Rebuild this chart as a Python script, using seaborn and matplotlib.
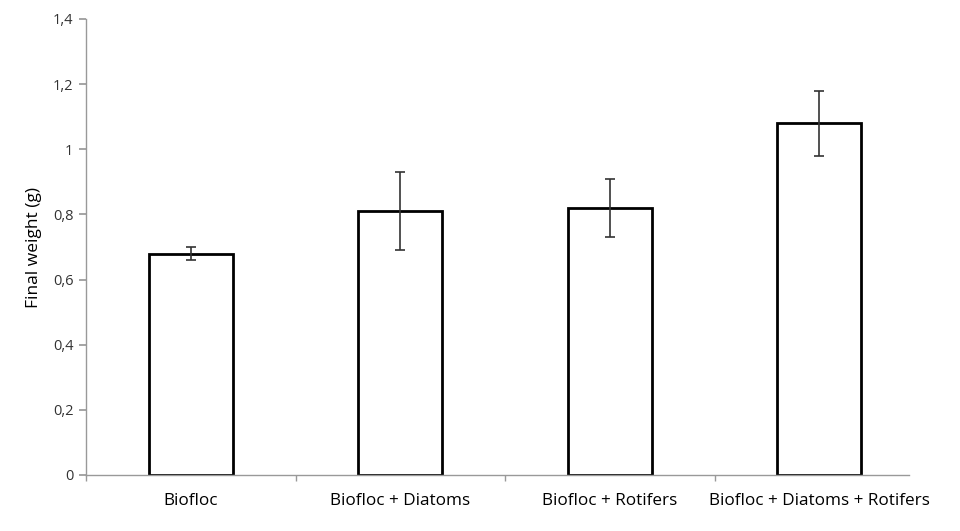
import matplotlib
matplotlib.use("Agg")
import matplotlib.pyplot as plt
import seaborn as sns
import pandas as pd
from matplotlib.ticker import FuncFormatter

categories = ["Biofloc", "Biofloc + Diatoms", "Biofloc + Rotifers", "Biofloc + Diatoms + Rotifers"]
final_weight = [0.68, 0.81, 0.82, 1.08]
error = [0.02, 0.12, 0.09, 0.10]
yticks = [0, 0.2, 0.4, 0.6, 0.8, 1.0, 1.2, 1.4]

sns.set_theme(style="white")
plt.rcParams['font.family'] = ['Open Sans', 'DejaVu Sans']

df = pd.DataFrame({"treatment": categories, "weight": final_weight})

fig = plt.figure(figsize=(9.6, 5.31), dpi=100)
ax = fig.add_axes([86/960, 1-475/531, (924-86)/960, (475-19)/531])

sns.barplot(data=df, x="treatment", y="weight", order=categories, color="white",
            edgecolor="black", linewidth=2.0, width=0.40, errorbar=None, ax=ax)
ax.errorbar(range(len(categories)), final_weight, yerr=error, fmt="none",
            ecolor="#333333", elinewidth=1.2, capsize=3.5, capthick=1.2)

ax.set_xlim(-0.5, 3.5)
ax.set_ylim(0, 1.4)
ax.set_yticks(yticks)
ax.yaxis.set_major_formatter(FuncFormatter(lambda v, p: ("%g" % v).replace(".", ",")))
ax.set_xticks([-0.5, 0.5, 1.5, 2.5], minor=True)
ax.tick_params(axis="x", which="major", length=0, labelsize=12.3, colors="black", pad=13)
ax.tick_params(axis="x", which="minor", length=4, color="#999999", direction="out", bottom=True)
ax.tick_params(axis="y", length=5, color="#999999", direction="out", labelsize=10.5,
               labelcolor="#333333", left=True, pad=4)

for s in ["top", "right"]:
    ax.spines[s].set_visible(False)
for s in ["left", "bottom"]:
    ax.spines[s].set_color("#999999")
    ax.spines[s].set_linewidth(1.0)
ax.spines["bottom"].set_bounds(-0.5, 3.43)

ax.set_xlabel("")
ax.set_ylabel("Final weight (g)", fontsize=12.5, color="black", labelpad=8)

fig.savefig("out.png", dpi=100, facecolor="white")
